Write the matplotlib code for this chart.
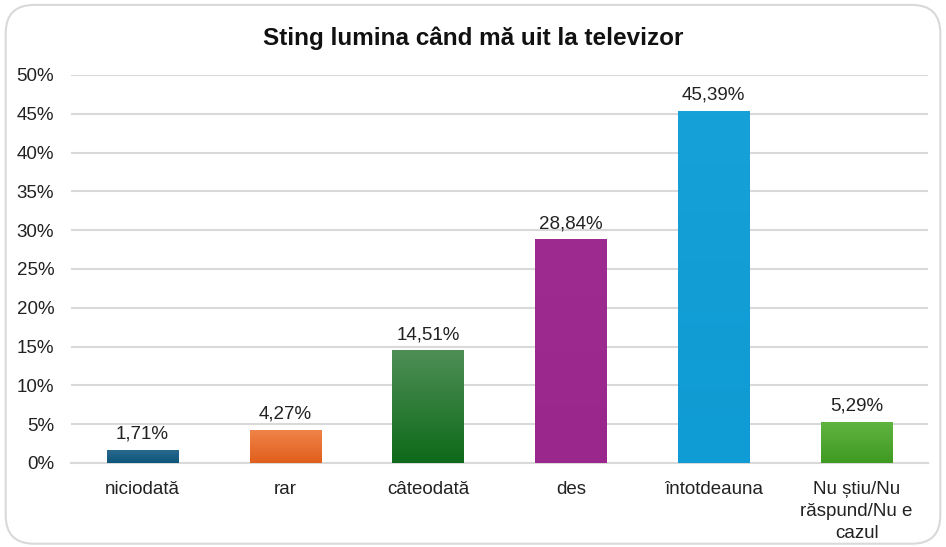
import numpy as np
import matplotlib.pyplot as plt
from matplotlib.patches import FancyBboxPatch
from matplotlib.colors import LinearSegmentedColormap

plt.rcParams['font.family'] = ['Liberation Sans', 'DejaVu Sans']

categories = ['niciodată', 'rar', 'câteodată', 'des', 'întotdeauna',
              'Nu știu/Nu\nrăspund/Nu e\ncazul']
values = [1.71, 4.27, 14.51, 28.84, 45.39, 5.29]
labels = ['1,71%', '4,27%', '14,51%', '28,84%', '45,39%', '5,29%']
# (top colour, bottom colour)
colors = [('#2A6A90', '#0E5679'), ('#F0844A', '#E15F1C'), ('#4E8E55', '#0E6A1A'),
          ('#9E2B90', '#9A278C'), ('#16A2D8', '#0F9BD3'), ('#60B440', '#3F9A22')]

fig = plt.figure(figsize=(9.46, 5.47), dpi=100)
ax = fig.add_axes([0.075, 0.1536, 0.906, 0.7094])

border = FancyBboxPatch((0.006, 0.006), 0.988, 0.985, boxstyle='round,pad=0,rounding_size=0.03',
                        transform=fig.transFigure, facecolor='none', edgecolor='#D9D9D9',
                        linewidth=1.5, mutation_aspect=946 / 547)
fig.patches.append(border)

x = np.arange(len(categories))
bars = ax.bar(x, values, width=0.5, color=[c[1] for c in colors], zorder=3)

# vertical gradient fill for each bar
for b, (top, bot) in zip(bars, colors):
    cmap = LinearSegmentedColormap.from_list('g', [bot, top])
    grad = np.linspace(0, 1, 100).reshape(-1, 1)
    x0, y0 = b.get_x(), b.get_y()
    im = ax.imshow(grad, cmap=cmap, origin='lower', aspect='auto',
                   extent=[x0, x0 + b.get_width(), y0, y0 + b.get_height()], zorder=3)
    im.set_clip_path(b)

for xi, v, t in zip(x, values, labels):
    ax.text(xi, v + 0.9, t, ha='center', va='bottom', fontsize=13.5, color='#222222')

ax.set_xlim(-0.5, len(categories) - 0.5)
ax.set_ylim(0, 50)
ax.set_yticks(np.arange(0, 51, 5))
ax.set_yticklabels([f'{v}%' for v in range(0, 51, 5)])
ax.set_xticks(x)
ax.set_xticklabels(categories, linespacing=1.4)
ax.tick_params(axis='both', length=0, labelsize=13.5, colors='#222222')
ax.tick_params(axis='y', pad=12)
ax.tick_params(axis='x', pad=13)
ax.grid(axis='y', color='#D9D9D9', linewidth=1.5, zorder=0)
for s in ['top', 'right', 'left']:
    ax.spines[s].set_visible(False)
ax.spines['bottom'].set_color('#D9D9D9')
ax.spines['bottom'].set_linewidth(1.5)

fig.text(0.5, 0.93, 'Sting lumina când mă uit la televizor', ha='center', va='center',
         fontsize=17.5, fontweight='bold', color='#111111')

fig.savefig('out.png', dpi=100)
